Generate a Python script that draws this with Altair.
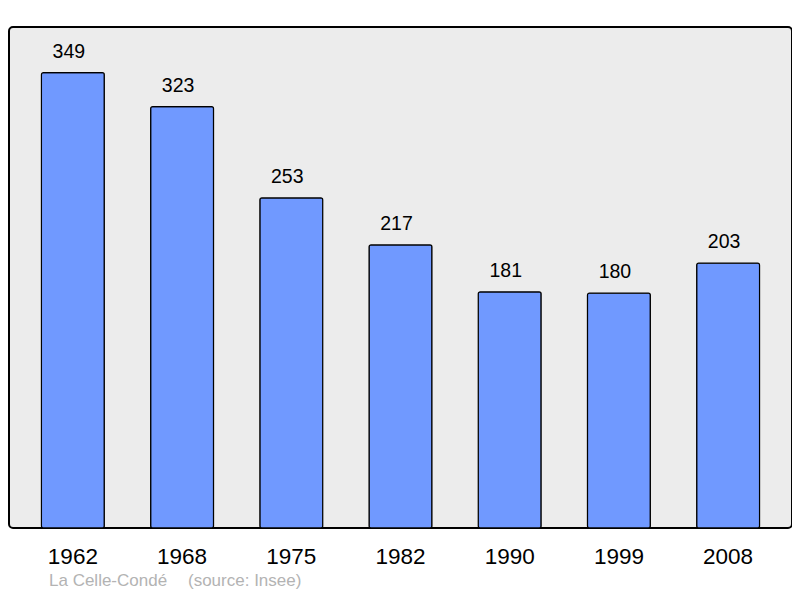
import altair as alt
import pandas as pd

years = ["1962", "1968", "1975", "1982", "1990", "1999", "2008"]
population = [349, 323, 253, 217, 181, 180, 203]
commune = "La Celle-Condé"
source = "(source: Insee)"

df = pd.DataFrame({"year": years, "pop": population})

xenc = alt.X("year:N", sort=years, title=None,
             scale=alt.Scale(paddingInner=0.424, paddingOuter=0.297),
             axis=alt.Axis(labelAngle=0, labelFontSize=22.5, labelColor="black",
                           labelFont="Liberation Sans", labelPadding=17.5,
                           ticks=False, domain=False, grid=False))
yenc = alt.Y("pop:Q", title=None, scale=alt.Scale(domain=[0, 384], nice=False),
             axis=None)

base = alt.Chart(df)

bars = base.mark_bar(color="#7099ff", stroke="black", strokeWidth=1.2,
                     cornerRadius=2).encode(x=xenc, y=yenc)

labels = base.mark_text(baseline="alphabetic", dy=-15, dx=-4, fontSize=19.5,
                        font="Liberation Sans", color="black").encode(
    x=alt.X("year:N", sort=years), y=alt.Y("pop:Q"), text=alt.Text("pop:Q"))

src1 = alt.Chart(pd.DataFrame({"t": [commune]})).mark_text(
    align="left", baseline="middle", fontSize=17, font="Liberation Sans",
    color="#b3b3b3").encode(x=alt.value(40), y=alt.value(554), text="t:N")
src2 = alt.Chart(pd.DataFrame({"t": [source]})).mark_text(
    align="left", baseline="middle", fontSize=17, font="Liberation Sans",
    color="#b3b3b3").encode(x=alt.value(179), y=alt.value(554), text="t:N")

chart = alt.layer(bars, labels, src1, src2).properties(
    width=783, height=501,
    autosize=alt.AutoSizeParams(type="none"),
    padding={"left": 1, "top": 19, "right": 0, "bottom": 62},
).configure_view(
    fill="#ececec", stroke="black", strokeWidth=2, cornerRadius=4
)

chart.save("out.html", embed_options={"renderer": "svg", "actions": False})
